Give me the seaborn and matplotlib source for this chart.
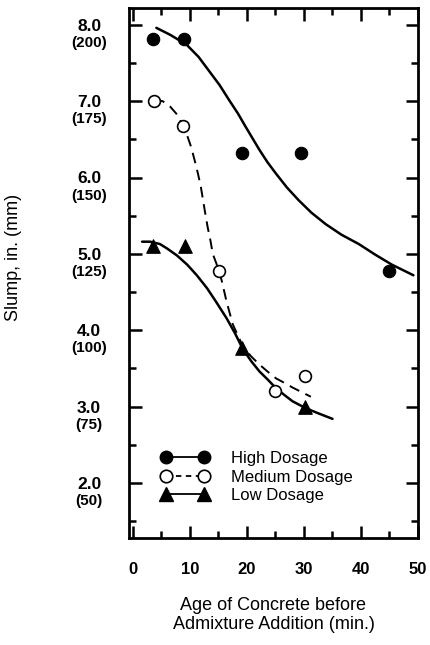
import matplotlib
matplotlib.use('Agg')
import matplotlib.pyplot as plt
import seaborn as sns
from matplotlib.lines import Line2D
from matplotlib.ticker import MultipleLocator

# measured points (age in min, slump in inches)
high_x = [3.5, 8.9, 19.2, 29.5, 45.0]
high_y = [7.82, 7.82, 6.32, 6.32, 4.78]
med_x = [3.7, 8.8, 15.1, 25.0, 30.2]
med_y = [7.0, 6.67, 4.77, 3.21, 3.40]
low_x = [3.5, 9.2, 19.2, 30.2]
low_y = [5.1, 5.1, 3.77, 3.0]

# hand drawn trend curves
high_fit_x = [4.1, 6.5, 9.4, 11.5, 13.4, 15.2, 16.9, 18.4, 19.8, 21.0, 22.2, 23.6,
              25.1, 27.0, 29.1, 31.3, 33.8, 36.6, 39.6, 42.5, 45.4, 49.2]
high_fit_y = [7.96, 7.87, 7.74, 7.58, 7.39, 7.21, 7.01, 6.84, 6.66, 6.51, 6.36, 6.20,
              6.05, 5.87, 5.70, 5.54, 5.39, 5.25, 5.13, 4.99, 4.86, 4.72]
med_fit_x = [3.7, 5.2, 6.5, 7.8, 8.8, 9.6, 10.2, 10.8, 11.4, 11.9, 12.3, 12.7, 13.1,
             13.6, 14.0, 14.6, 15.1, 15.6, 16.4, 17.5, 18.4, 19.3, 20.7, 22.2, 23.6,
             25.1, 26.6, 28.0, 29.6, 31.2]
med_fit_y = [7.02, 7.0, 6.93, 6.82, 6.67, 6.53, 6.40, 6.23, 6.05, 5.88, 5.70, 5.52, 5.35,
             5.17, 5.0, 4.88, 4.77, 4.64, 4.38, 4.08, 3.93, 3.79, 3.66, 3.55, 3.46,
             3.37, 3.31, 3.25, 3.19, 3.13]
low_fit_x = [1.6, 3.0, 4.7, 6.0, 7.7, 9.5, 11.2, 13.0, 14.6, 16.4, 17.9, 19.3,
             20.8, 22.2, 23.7, 25.1, 26.6, 28.0, 30.3, 32.6, 35.0]
low_fit_y = [5.16, 5.16, 5.13, 5.07, 4.98, 4.86, 4.72, 4.55, 4.37, 4.16, 3.96, 3.75,
             3.59, 3.46, 3.35, 3.24, 3.15, 3.07, 2.98, 2.91, 2.84]

inch_ticks = [2.0, 3.0, 4.0, 5.0, 6.0, 7.0, 8.0]
mm_labels = ['(50)', '(75)', '(100)', '(125)', '(150)', '(175)', '(200)']
x_ticks = [0, 10, 20, 30, 40, 50]
series_names = ['High Dosage', 'Medium Dosage', 'Low Dosage']

sns.set_style('ticks')
plt.rcParams['font.family'] = ['Liberation Sans', 'DejaVu Sans']
plt.rcParams['text.color'] = 'black'
plt.rcParams['axes.labelcolor'] = 'black'
plt.rcParams['xtick.color'] = 'black'
plt.rcParams['ytick.color'] = 'black'

fig = plt.figure(figsize=(4.3, 6.45), dpi=100)
ax = fig.add_axes([129 / 430, 1 - 538 / 645, 289 / 430, 530 / 645])

# curves
sns.lineplot(x=high_fit_x, y=high_fit_y, sort=False, estimator=None, color='black',
             lw=1.8, ax=ax)
sns.lineplot(x=med_fit_x, y=med_fit_y, sort=False, estimator=None, color='black',
             lw=1.4, ax=ax)
ax.lines[-1].set_dashes([5.5, 3.5])
sns.lineplot(x=low_fit_x, y=low_fit_y, sort=False, estimator=None, color='black',
             lw=1.8, ax=ax)

# points
sns.scatterplot(x=high_x, y=high_y, marker='o', s=80, color='black',
                edgecolor='black', linewidth=0.8, ax=ax, zorder=4)
sns.scatterplot(x=med_x, y=med_y, marker='o', s=72, color='white',
                edgecolor='black', linewidth=1.2, ax=ax, zorder=4)
sns.scatterplot(x=low_x, y=low_y, marker='^', s=95, color='black',
                edgecolor='black', linewidth=0.8, ax=ax, zorder=4)

ax.set_xlim(-0.7, 49.8)
ax.set_ylim(1.28, 8.22)
ax.xaxis.set_major_locator(MultipleLocator(10))
ax.xaxis.set_minor_locator(MultipleLocator(5))
ax.yaxis.set_major_locator(MultipleLocator(1))
ax.yaxis.set_minor_locator(MultipleLocator(0.5))
ax.set_xticks(x_ticks)
ax.set_xticklabels([str(t) for t in x_ticks], fontsize=12, fontweight='bold')
ax.tick_params(which='both', direction='in', top=True, right=True, width=1.8,
               color='black', labelleft=False)
ax.tick_params(which='major', length=9, pad=17)
ax.tick_params(which='minor', length=5)
for sp in ax.spines.values():
    sp.set_linewidth(2.0)
    sp.set_color('black')

# two-line y tick labels: inches above, mm below
ytr = ax.get_yaxis_transform()
for v, mm in zip(inch_ticks, mm_labels):
    ax.annotate(f'{v:.1f}', xy=(-0.138, v), xycoords=ytr, xytext=(0, -1),
                textcoords='offset points', ha='center', va='center',
                fontsize=12.5, fontweight='bold', annotation_clip=False)
    ax.annotate(mm, xy=(-0.138, v), xycoords=ytr, xytext=(0, -13),
                textcoords='offset points', ha='center', va='center',
                fontsize=11, fontweight='bold', annotation_clip=False)

ax.set_ylabel('Slump, in. (mm)', fontsize=13)
ax.yaxis.set_label_coords(-0.37, 0.53)
ax.set_xlabel('Age of Concrete before\nAdmixture Addition (min.)', fontsize=13,
              linespacing=1.1)
ax.xaxis.set_label_coords(0.5, -0.112)

handles = [
    Line2D([], [], color='black', lw=1.3, marker='o', markersize=9,
           markerfacecolor='black', markeredgecolor='black'),
    Line2D([], [], color='black', lw=1.3, ls=(0, (3, 2.5)), marker='o', markersize=9,
           markerfacecolor='white', markeredgecolor='black', markeredgewidth=1.2),
    Line2D([], [], color='black', lw=1.3, marker='^', markersize=10,
           markerfacecolor='black', markeredgecolor='black'),
]
ax.legend(handles, series_names, numpoints=2, frameon=False, fontsize=12,
          loc='center left', bbox_to_anchor=(0.11, 0.115), borderpad=0,
          borderaxespad=0, handlelength=2.9, handletextpad=1.3, labelspacing=0.2)

fig.savefig('out.png', dpi=100, facecolor='white')
